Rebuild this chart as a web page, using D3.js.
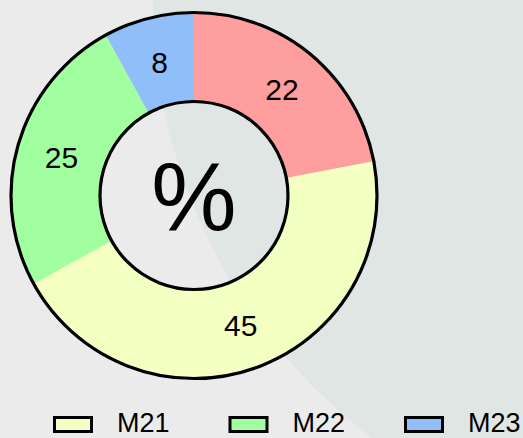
<!DOCTYPE html>
<html>
<head>
<meta charset="utf-8">
<script src="https://cdn.jsdelivr.net/npm/d3@7/dist/d3.min.js"></script>
<style>
  html, body { margin: 0; padding: 0; background: #ebebeb; }
  svg { display: block; }
</style>
</head>
<body>
<svg id="chart" width="523" height="438"></svg>
<script>
// Slices in drawing order (clockwise from 12 o'clock)
const sliceNames  = ["M24", "M21", "M22", "M23"];
const sliceValues = [22, 45, 25, 8];
const sliceColors = ["#ff9e9e", "#f4ffc2", "#a2ffa0", "#8fbef8"];
// Legend order
const legendNames = ["M21", "M22", "M23"];
const centerLabel = "%";

const W = 523, H = 438;
const cx = 194, cy = 195.5;
const rOuter = 183, rInner = 94;

const svg = d3.select("#chart");

// faint watermark seal in the background
svg.append("circle")
  .attr("cx", 700).attr("cy", 0).attr("r", 547)
  .attr("fill", "#e0e6e3");

const g = svg.append("g").attr("transform", `translate(${cx},${cy})`);

const data = sliceNames.map((n, i) => ({ name: n, value: sliceValues[i], color: sliceColors[i] }));
const pie = d3.pie().sort(null).value(d => d.value);
const arcs = pie(data);
const arc = d3.arc().innerRadius(rInner).outerRadius(rOuter);
const labelArc = d3.arc().innerRadius(138).outerRadius(138);

g.selectAll("path.slice").data(arcs).join("path")
  .attr("class", "slice")
  .attr("d", arc)
  .attr("fill", d => d.data.color);

g.append("circle").attr("r", rOuter).attr("fill", "none").attr("stroke", "#000").attr("stroke-width", 3.2);
g.append("circle").attr("r", rInner).attr("fill", "none").attr("stroke", "#000").attr("stroke-width", 3.2);

g.selectAll("text.val").data(arcs).join("text")
  .attr("class", "val")
  .attr("transform", d => `translate(${labelArc.centroid(d)})`)
  .attr("text-anchor", "middle")
  .attr("dy", "0.36em")
  .attr("font-family", "'Liberation Sans', Arial, sans-serif")
  .attr("font-size", 30)
  .attr("fill", "#000")
  .text(d => d.data.value);

g.append("text")
  .attr("text-anchor", "middle")
  .attr("dy", "0.355em")
  .attr("font-family", "'Liberation Sans', Arial, sans-serif")
  .attr("font-size", 96)
  .attr("fill", "#000")
  .text(centerLabel);

// Legend
const colorOf = d3.scaleOrdinal().domain(sliceNames).range(sliceColors);
const lx = d3.scaleLinear().domain([0, 1]).range([54.5, 230]);
const leg = svg.append("g").selectAll("g").data(legendNames).join("g")
  .attr("transform", (d, i) => `translate(${lx(i)},417.5)`);
leg.append("rect")
  .attr("width", 37).attr("height", 14)
  .attr("fill", d => colorOf(d))
  .attr("stroke", "#000").attr("stroke-width", 3);
leg.append("text")
  .attr("x", 62.5).attr("y", 14.5)
  .attr("font-family", "'Liberation Sans', Arial, sans-serif")
  .attr("font-size", 27)
  .attr("fill", "#000")
  .text(d => d);
</script>
</body>
</html>
